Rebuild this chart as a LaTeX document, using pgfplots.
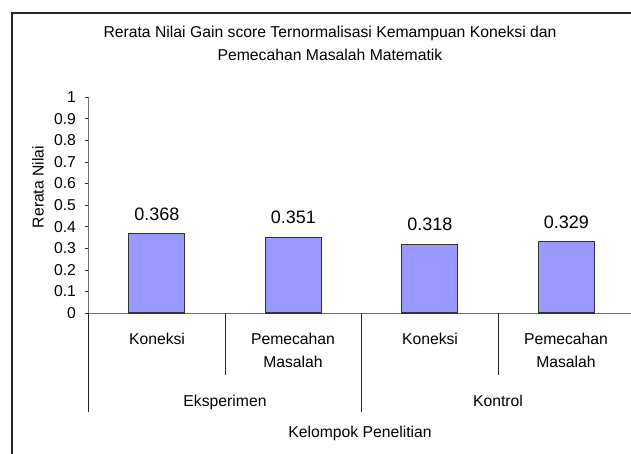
\documentclass[border=0pt]{standalone}
\usepackage{fontspec}
\setmainfont{Liberation Sans}
\usepackage{pgfplots}
\pgfplotsset{compat=1.18}
\definecolor{barblue}{HTML}{9999FF}
\begin{document}
\begin{tikzpicture}
\useasboundingbox (0,0) rectangle (473.25pt,-339.75pt);
\begin{axis}[
  at={(66.5pt,-234.75pt)}, anchor=south west,
  scale only axis, width=409.5pt, height=162pt,
  xmin=0, xmax=4, ymin=0, ymax=1,
  axis x line=bottom, axis y line=left,
  axis line style={-, draw=black!55},
  xtick=\empty,
  ytick={0,0.1,0.2,0.3,0.4,0.5,0.6,0.7,0.8,0.9,1},
  yticklabels={0,0.1,0.2,0.3,0.4,0.5,0.6,0.7,0.8,0.9,1},
  tick align=outside, major tick length=3pt,
  ytick style={draw=black!80},
  y tick label style={font=\fontsize{11.8}{13}\selectfont, xshift=-3pt},
  /pgf/number format/assume math mode=true,
  ybar, bar width=42pt,
  nodes near coords, point meta=explicit symbolic,
  nodes near coords style={anchor=base, yshift=10pt, font=\fontsize{13.5}{16}\selectfont, black},
  clip=false,
]
\addplot[fill=barblue, draw=black!80, line width=0.8pt] coordinates {(0.5,0.368)[0.368] (1.5,0.351)[0.351] (2.5,0.318)[0.318] (3.5,0.329)[0.329]};
\draw[black!85, line width=0.6pt] (axis cs:1,0) -- ++(0pt,-46.5pt);
\draw[black!85, line width=0.6pt] (axis cs:3,0) -- ++(0pt,-46.5pt);
\draw[black!85, line width=0.6pt] (axis cs:0,0) -- ++(0pt,-74.25pt);
\draw[black!85, line width=0.6pt] (axis cs:2,0) -- ++(0pt,-74.25pt);
\draw[black!85, line width=0.6pt] (axis cs:4,0) -- ++(0pt,-74.25pt);
\end{axis}
\begin{scope}[x=0.75pt, y=-0.75pt]
  \draw[line width=1.1pt, black!85] (12,480) -- (12,13) -- (660,13);
  \node[align=center, font=\fontsize{11.8}{17.25}\selectfont] at (330,43.5) {Rerata Nilai Gain score Ternormalisasi Kemampuan Koneksi dan\\Pemecahan Masalah Matematik};
  \node[rotate=90, font=\fontsize{11.8}{13}\selectfont] at (38,187) {Rerata Nilai};
  \node[font=\fontsize{11.8}{13}\selectfont] at (157,338.5) {Koneksi};
  \node[font=\fontsize{11.8}{13}\selectfont] at (430,338.5) {Koneksi};
  \node[align=center, font=\fontsize{11.8}{17.25}\selectfont] at (293,350) {Pemecahan\\Masalah};
  \node[align=center, font=\fontsize{11.8}{17.25}\selectfont] at (566,350) {Pemecahan\\Masalah};
  \node[anchor=base, font=\fontsize{11.8}{13}\selectfont] at (225,406) {Eksperimen};
  \node[anchor=base, font=\fontsize{11.8}{13}\selectfont] at (498,406) {Kontrol};
  \node[anchor=base, font=\fontsize{11.8}{13}\selectfont] at (360,437) {Kelompok Penelitian};
\end{scope}
\end{tikzpicture}
\end{document}
